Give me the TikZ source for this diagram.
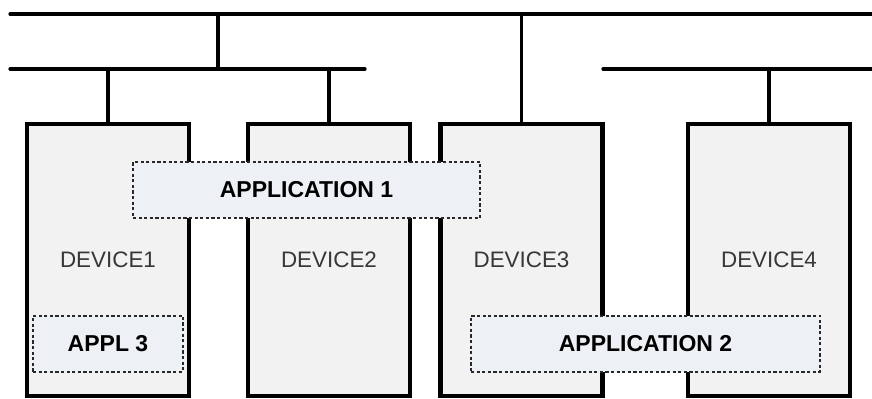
\documentclass[tikz,border=0pt]{standalone}
\usepackage{fontspec}
\setmainfont{Liberation Sans}
\usepackage{tikz}
\usetikzlibrary{positioning}
\definecolor{devgray}{RGB}{242,242,242}
\definecolor{devtext}{RGB}{55,55,55}
\definecolor{appblue}{RGB}{237,240,245}
\definecolor{appborder}{RGB}{40,40,40}

\begin{document}
\begin{tikzpicture}[
  x=0.5pt, y=-0.5pt,
  font=\fontsize{11.2}{13}\selectfont,
  device/.style={draw, line width=2.1pt, fill=devgray, text=devtext,
                 minimum width=81pt, minimum height=136pt,
                 inner sep=0pt, outer sep=0pt},
  app/.style={draw=appborder, fill=appblue, line width=1pt,
              dash pattern=on 1.6pt off 1.2pt, inner sep=0pt, outer sep=0pt,
              minimum height=28pt, font=\fontsize{11.5}{13}\selectfont\bfseries},
  bus/.style={line width=1.6pt, line cap=round}
]
\useasboundingbox (0,0) rectangle (872,398);

% devices
\node[device] (dev1) at (108,260)   {DEVICE1};
\node[device] (dev2) at (329,260)   {DEVICE2};
\node[device] (dev3) at (521.5,260) {DEVICE3};
\node[device] (dev4) at (769,260)   {DEVICE4};

% buses
\coordinate (topw)  at (10,14);   \coordinate (tope)  at (872,14);
\coordinate (leftw) at (10,69);   \coordinate (lefte) at (365,69);
\coordinate (rgtw)  at (603,69);  \coordinate (rgte)  at (872,69);
\coordinate (tap)   at (218,69);

\draw[bus] (topw) -- (tope);
\draw[bus] (leftw) -- (lefte);
\draw[bus] (rgtw) -- (rgte);
\draw[bus] (tap) -- (tap |- topw);
\draw[bus] (dev1.north) -- (dev1.north |- leftw);
\draw[bus] (dev2.north) -- (dev2.north |- leftw);
\draw[bus] (dev3.north) -- (dev3.north |- topw);
\draw[bus] (dev4.north) -- (dev4.north |- rgtw);

% applications
\node[app, minimum width=173.5pt] (app1) at (306.5,190)   {APPLICATION 1};
\node[app, minimum width=174.5pt] (app2) at (645.5,343.5) {APPLICATION 2};
\node[app, minimum width=75pt]    (app3) at (108,343.5)   {APPL 3};
\end{tikzpicture}
\end{document}
